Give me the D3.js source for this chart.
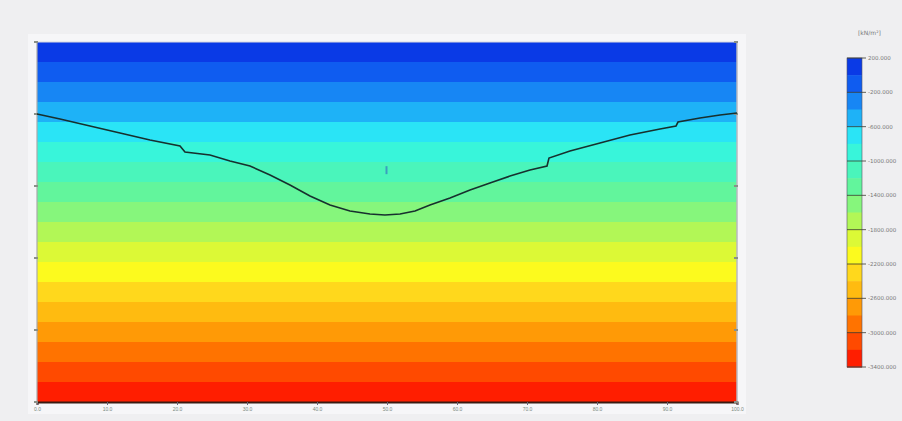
<!DOCTYPE html>
<html><head><meta charset="utf-8">
<script src="https://cdn.jsdelivr.net/npm/d3@7"></script>
<style>html,body{margin:0;padding:0;background:#efeff1;}svg{display:block;font-family:"DejaVu Sans",sans-serif;}</style>
</head><body><svg id="c" width="902" height="421"></svg>
<script>
// ---- data ----
const bandEdges = [200,0,-200,-400,-600,-800,-1000,-1200,-1400,-1600,-1800,-2000,-2200,-2400,-2600,-2800,-3000,-3200,-3400];
const bandColors = ["#0a3ae6","#0f5cf0","#1786f4","#1eb2f7","#2ae4f6","#38f5da","#4af5bb","#62f59c","#86f67c","#b2f756","#dcf936","#fcfa1e","#ffd81c","#ffbb10","#ff9a06","#ff7300","#ff4a00","#ff1e00"];
const legendTicks = [200,-200,-600,-1000,-1400,-1800,-2200,-2600,-3000,-3400];
const legendLabels = ["200.000","-200.000","-600.000","-1000.000","-1400.000","-1800.000","-2200.000","-2600.000","-3000.000","-3400.000"];
const xTicks = [0,10,20,30,40,50,60,70,80,90,100];
const xTickLabels = ["0.0","10.0","20.0","30.0","40.0","50.0","60.0","70.0","80.0","90.0","100.0"];
const yTicks = [0,-5,-10,-15,-20,-25];
const curveX = [0,3.29,7.57,11.86,16.14,20.43,21.14,24.71,27.57,30.43,33.29,36.14,39.0,41.86,44.71,47.57,49.71,51.86,54.0,56.14,59.0,61.86,64.71,67.57,70.43,72.86,73.14,76.14,80.43,84.71,89.0,91.29,91.57,94.71,97.57,100];
const curveY = [-5.0,-5.35,-5.83,-6.32,-6.81,-7.22,-7.64,-7.85,-8.26,-8.61,-9.24,-9.93,-10.69,-11.32,-11.74,-11.94,-12.01,-11.94,-11.74,-11.32,-10.83,-10.28,-9.79,-9.31,-8.89,-8.61,-8.06,-7.57,-7.01,-6.46,-6.04,-5.83,-5.56,-5.28,-5.07,-4.93];
const marker = {x:50, y:-8.9};
const unitLabel = "[kN/m²]";

// ---- layout ----
const svg = d3.select("#c");
const L=37,R=737,T=42,B=402;
const x = d3.scaleLinear().domain([0,100]).range([L,R]);
const y = d3.scaleLinear().domain([-25,0]).range([B,T]);
const v = d3.scaleLinear().domain([200,-3400]).range([T,B]);

svg.append("rect").attr("x",28).attr("y",34).attr("width",718).attr("height",380).attr("fill","#f6f6f8");

// bands
svg.append("g").selectAll("rect").data(bandColors).join("rect")
  .attr("x",L).attr("width",R-L)
  .attr("y",(d,i)=>v(bandEdges[i]))
  .attr("height",(d,i)=>v(bandEdges[i+1])-v(bandEdges[i])+0.5)
  .attr("fill",d=>d);

// frame
svg.append("line").attr("x1",L).attr("x2",L).attr("y1",T).attr("y2",B).attr("stroke","#aaa").attr("stroke-width",1.2);
svg.append("line").attr("x1",R).attr("x2",R).attr("y1",T).attr("y2",B).attr("stroke","#b8b8c0").attr("stroke-width",1.5);
svg.append("line").attr("x1",L).attr("x2",R).attr("y1",T).attr("y2",T).attr("stroke","#d8d8e0").attr("stroke-width",1);

// bottom axis
const xa = svg.append("g").attr("transform",`translate(0,${B})`)
  .call(d3.axisBottom(x).tickValues(xTicks).tickFormat((d,i)=>xTickLabels[i]).tickSize(3).tickPadding(2));
xa.select(".domain").attr("stroke","#3a1a10").attr("stroke-width",2);
xa.selectAll(".tick line").attr("stroke","#667");
xa.selectAll("text").attr("fill","#7a8a80").attr("font-size",5);

// left/right ticks
[L,R].forEach((px,k)=>{
  svg.append("g").selectAll("line").data(yTicks).join("line")
    .attr("x1",px-3).attr("x2",px+1).attr("y1",d=>y(d)).attr("y2",d=>y(d))
    .attr("stroke","#8a9088").attr("stroke-width",2);
});

// curve
const line = d3.line().x(d=>x(d[0])).y(d=>y(d[1]));
svg.append("path").datum(curveX.map((d,i)=>[d,curveY[i]]))
  .attr("d",line).attr("fill","none").attr("stroke","#17302e").attr("stroke-width",1.6);

// marker
svg.append("line").attr("x1",x(marker.x)-0.5).attr("x2",x(marker.x)-0.5)
  .attr("y1",y(marker.y)-4).attr("y2",y(marker.y)+4).attr("stroke","#3a9fbf").attr("stroke-width",2);

// legend
const lg = d3.scaleLinear().domain([200,-3400]).range([58,367]);
const lx=847, lw=15;
svg.append("g").selectAll("rect").data(bandColors).join("rect")
  .attr("x",lx).attr("width",lw)
  .attr("y",(d,i)=>lg(bandEdges[i]))
  .attr("height",(d,i)=>lg(bandEdges[i+1])-lg(bandEdges[i])+0.5)
  .attr("fill",d=>d);
svg.append("rect").attr("x",lx).attr("y",58).attr("width",lw).attr("height",309).attr("fill","none").attr("stroke","#556").attr("stroke-width",0.6);
svg.append("g").selectAll("line").data(legendTicks).join("line")
  .attr("x1",lx).attr("x2",lx+lw+4).attr("y1",d=>lg(d)).attr("y2",d=>lg(d))
  .attr("stroke","#3a3a30").attr("stroke-width",0.8);
svg.append("g").selectAll("text").data(legendTicks).join("text")
  .attr("x",lx+21).attr("y",d=>lg(d)+2).attr("font-size",5.5).attr("fill","#777")
  .text((d,i)=>legendLabels[i]);
svg.append("text").attr("x",858).attr("y",35).attr("font-size",6).attr("fill","#777").text(unitLabel);
</script></body></html>
